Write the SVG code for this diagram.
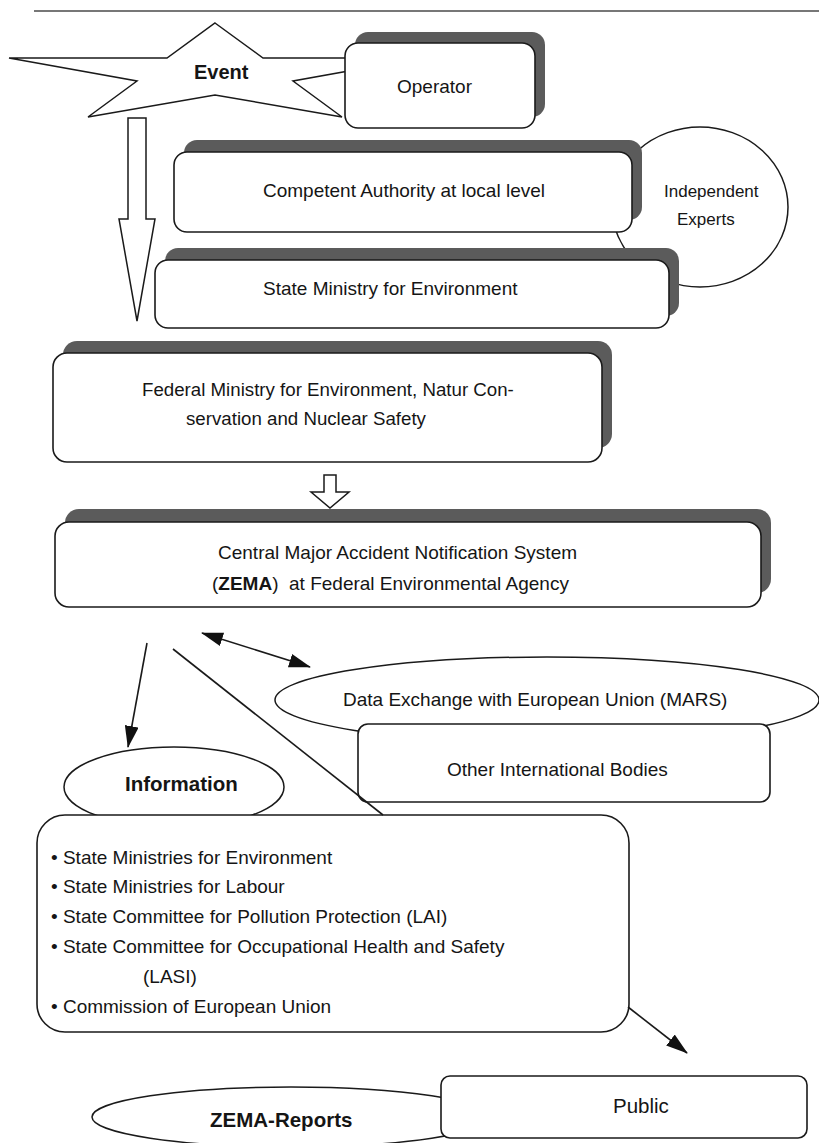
<svg xmlns="http://www.w3.org/2000/svg" width="819" height="1143" viewBox="0 0 819 1143">
<style>
  .t { font-family: "Liberation Sans", Arial, sans-serif; font-size: 19px; fill: #151515; }
  .b { font-weight: bold; font-size: 20.5px; }
  .box { fill: #ffffff; stroke: #1a1a1a; stroke-width: 1.6; }
  .sh { fill: #5b5b5b; stroke: none; }
  .shape { fill: #ffffff; stroke: #1a1a1a; stroke-width: 1.5; }
  .ln { fill: none; stroke: #1a1a1a; stroke-width: 1.6; }
</style>
<defs>
  <marker id="ah" viewBox="0 0 22 14" markerWidth="22" markerHeight="14" refX="21" refY="7" orient="auto-start-reverse" markerUnits="userSpaceOnUse">
    <path d="M0,0 L22,7 L0,14 Z" fill="#111"/>
  </marker>
</defs>
<rect width="819" height="1143" fill="#ffffff"/>
<line x1="34" y1="11" x2="819" y2="11" stroke="#4a4a4a" stroke-width="1.6"/>

<g id="independent-experts">
  <ellipse class="shape" cx="700" cy="207" rx="88" ry="80"/>
  <text class="t" x="664" y="197" style="font-size:17px">Independent</text>
  <text class="t" x="677" y="225" style="font-size:17px">Experts</text>
</g>

<g id="event">
  <polygon class="shape" points="215,23 263,58 421,58 293,81 342,117 215,95 88,117 137,81 9,58 167,58"/>
  <text class="t b" x="194" y="79" style="font-size:20px">Event</text>
</g>

<g id="operator">
  <rect class="sh" x="355" y="32" width="190" height="85" rx="13"/>
  <rect class="box" x="345" y="43" width="190" height="85" rx="13"/>
  <text class="t" x="397" y="93">Operator</text>
</g>

<g id="competent-authority">
  <rect class="sh" x="184" y="140" width="458" height="80" rx="13"/>
  <rect class="box" x="174" y="152" width="458" height="80" rx="13"/>
  <text class="t" x="263" y="197">Competent Authority at local level</text>
</g>

<g id="state-ministry">
  <rect class="sh" x="165" y="248" width="514" height="68" rx="13"/>
  <rect class="box" x="155" y="260" width="514" height="68" rx="13"/>
  <text class="t" x="263" y="295">State Ministry for Environment</text>
</g>

<g id="federal-ministry">
  <rect class="sh" x="63" y="341" width="549" height="107" rx="14"/>
  <rect class="box" x="53" y="353" width="549" height="109" rx="14"/>
  <text class="t" x="142" y="396" style="font-size:18.7px">Federal Ministry for Environment, Natur Con-</text>
  <text class="t" x="186" y="425" style="font-size:18.7px">servation and Nuclear Safety</text>
</g>

<g id="zema">
  <rect class="sh" x="65" y="509" width="706" height="84" rx="14"/>
  <rect class="box" x="55" y="522" width="706" height="85" rx="14"/>
  <text class="t" x="218" y="559">Central Major Accident Notification System</text>
  <text class="t" x="212" y="590" xml:space="preserve">(<tspan font-weight="bold">ZEMA</tspan>)  at Federal Environmental Agency</text>
</g>

<g id="data-exchange">
  <ellipse class="shape" cx="547" cy="700" rx="272" ry="43"/>
  <text class="t" x="343" y="706">Data Exchange with European Union (MARS)</text>
</g>

<g id="other-bodies">
  <rect class="box" x="358" y="724" width="412" height="78" rx="10"/>
  <text class="t" x="447" y="776">Other International Bodies</text>
</g>

<g id="information">
  <ellipse class="shape" cx="174" cy="787" rx="110" ry="40"/>
  <text class="t b" x="125" y="791">Information</text>
</g>

<g id="recipients">
  <rect class="box" x="37" y="815" width="592" height="217" rx="28"/>
  <text class="t" x="51" y="864">• State Ministries for Environment</text>
  <text class="t" x="51" y="893">• State Ministries for Labour</text>
  <text class="t" x="51" y="923">• State Committee for Pollution Protection (LAI)</text>
  <text class="t" x="51" y="953">• State Committee for Occupational Health and Safety</text>
  <text class="t" x="143" y="983">(LASI)</text>
  <text class="t" x="51" y="1013">• Commission of European Union</text>
</g>

<g id="zema-reports">
  <ellipse class="shape" cx="291" cy="1117" rx="199" ry="30"/>
  <text class="t b" x="210" y="1127">ZEMA-Reports</text>
</g>

<g id="public">
  <rect class="box" x="441" y="1076" width="366" height="62" rx="9"/>
  <text class="t" x="613" y="1113" style="font-size:20.5px">Public</text>
</g>

<g id="connectors">
  <polygon class="shape" points="128,118 146,118 146,219 155,219 137,321 119,219 128,219"/>
  <polygon class="shape" points="324,475 336,475 336,492 349,492 330,508 311,492 324,492"/>
  <line class="ln" x1="147" y1="643" x2="128" y2="747" marker-end="url(#ah)"/>
  <line class="ln" x1="202" y1="633" x2="310" y2="667" marker-start="url(#ah)" marker-end="url(#ah)"/>
  <line class="ln" x1="173" y1="649" x2="383" y2="815"/>
  <line class="ln" x1="628" y1="1007" x2="687" y2="1053" marker-end="url(#ah)"/>
</g>
</svg>
